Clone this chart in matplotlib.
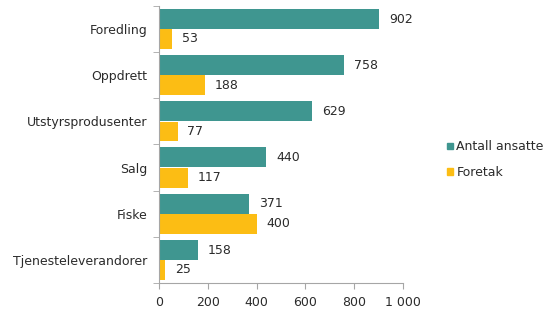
import numpy as np
import matplotlib.pyplot as plt
from matplotlib.patches import Patch

plt.rcParams['font.family'] = ['DejaVu Sans']

categories = ['Foredling', 'Oppdrett', 'Utstyrsprodusenter', 'Salg', 'Fiske', 'Tjenesteleverandorer']
ansatte = [902, 758, 629, 440, 371, 158]
foretak = [53, 188, 77, 117, 400, 25]

teal = '#3f9690'
yellow = '#fcbd14'
grey = '#a6a6a6'
txt = '#2b2b2b'

fig = plt.figure(figsize=(5.45, 3.10), dpi=100)
ax = fig.add_axes([0.2917, 0.087, 0.4477, 0.894])

y = np.arange(len(categories))
h = 0.43
ax.barh(y - h / 2 - 0.005, ansatte, height=h, color=teal)
ax.barh(y + h / 2 + 0.005, foretak, height=h, color=yellow)

for yi, v in zip(y, ansatte):
    ax.annotate(str(v), (v, yi - h / 2), xytext=(7, 0), textcoords='offset points',
                va='center', ha='left', fontsize=9, color=txt)
for yi, v in zip(y, foretak):
    ax.annotate(str(v), (v, yi + h / 2), xytext=(7, 0), textcoords='offset points',
                va='center', ha='left', fontsize=9, color=txt)

ax.set_ylim(len(categories) - 0.5, -0.5)
ax.set_xlim(0, 1000)
ax.set_xticks([0, 200, 400, 600, 800, 1000])
ax.set_xticklabels(['0', '200', '400', '600', '800', '1 000'])
ax.set_yticks(y)
ax.set_yticklabels(categories)
ax.set_yticks(np.arange(-0.5, len(categories), 1), minor=True)

for s in ['top', 'right']:
    ax.spines[s].set_visible(False)
for s in ['left', 'bottom']:
    ax.spines[s].set_color(grey)
    ax.spines[s].set_linewidth(0.8)

ax.tick_params(axis='y', which='major', length=0, pad=8.5, labelsize=9, labelcolor=txt)
ax.tick_params(axis='y', which='minor', length=4, color=grey)
ax.tick_params(axis='x', length=4, color=grey, labelsize=9, labelcolor=txt, pad=5)

handles = [Patch(color=teal, label='Antall ansatte'), Patch(color=yellow, label='Foretak')]
fig.legend(handles=handles, loc='center left', bbox_to_anchor=(0.82, 0.485), frameon=False,
           fontsize=9, handlelength=0.45, handleheight=0.45, handletextpad=0.3,
           labelspacing=1.0, labelcolor=txt, borderpad=0, borderaxespad=0)

fig.savefig('out.png', dpi=100)
